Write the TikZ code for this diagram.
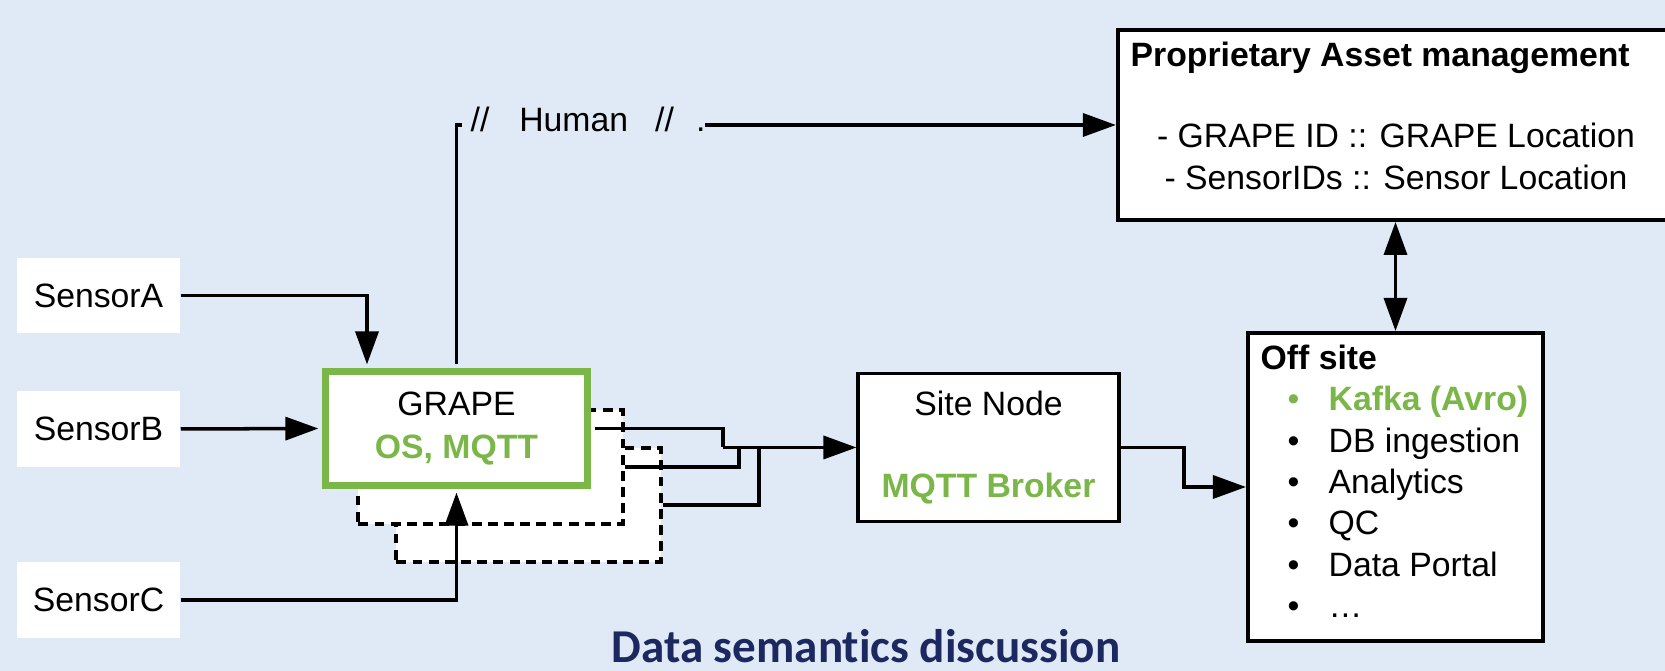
\documentclass[tikz,border=0pt]{standalone}
\usepackage{fontspec}
\setmainfont{Liberation Sans}
\newfontfamily\captionfont[Ligatures=NoCommon]{Carlito}
\usepackage{xcolor}
\usetikzlibrary{arrows.meta}

\definecolor{bgblue}{RGB}{223,234,246}
\definecolor{lucidgreen}{RGB}{122,182,72}
\definecolor{navy}{RGB}{28,40,95}

\begin{document}
\fontsize{9.6}{12}\selectfont
\begin{tikzpicture}[x=0.01cm, y=-0.01cm,
  sensor/.style={fill=white, minimum width=1.63cm, minimum height=0.75cm, inner sep=0pt},
  box/.style={draw, line width=1.1pt, fill=white, inner sep=0pt},
  shadow/.style={draw, fill=white, line width=1.1pt, dash pattern=on 2.8pt off 1.8pt,
    minimum width=2.64cm, minimum height=1.14cm},
  txt/.style={anchor=base west, inner sep=0pt},
  link/.style={line width=1pt, -{Triangle[length=0.33cm, width=0.23cm]}},
  both/.style={line width=1pt, {Triangle[length=0.33cm, width=0.23cm]}-{Triangle[length=0.33cm, width=0.23cm]}},
  plain/.style={line width=1pt}]

  \useasboundingbox (0,0) rectangle (1665,671);
  \fill[bgblue] (0,0) rectangle (1665,671);

  \node[sensor] (sensora) at (98.5,295.5) {SensorA};
  \node[sensor] (sensorb) at (98.5,429) {SensorB};
  \node[sensor] (sensorc) at (98.5,600) {SensorC};

  \node[shadow] (shadow2) at (528.5,505) {};
  \node[shadow] (shadow1) at (490.5,467) {};
  \node[box, draw=lucidgreen, line width=2pt, minimum width=2.62cm, minimum height=1.14cm, align=center]
    (grape) at (456.5,428.5) {GRAPE\\ {\bfseries\color{lucidgreen} OS, MQTT}};

  \node[box, minimum width=2.6cm, minimum height=1.48cm, align=center]
    (site) at (988.5,447.5) {Site Node\\[11.3pt] {\bfseries\color{lucidgreen} MQTT Broker}};

  \node[box, minimum width=5.62cm, minimum height=1.9cm] (asset) at (1399,125) {};
  \node[txt, font=\bfseries] (assettitle) at (1130,67) {Proprietary Asset management};
  \node[anchor=base, inner sep=0pt] (assetid1) at (1396,148) {- GRAPE ID :: GRAPE Location};
  \node[anchor=base, inner sep=0pt] (assetid2) at (1396,190) {- SensorIDs :: Sensor Location};

  \node[box, minimum width=2.95cm, minimum height=3.08cm] (offsite) at (1395.5,487) {};
  \node[txt, font=\bfseries] (offtitle) at (1260,370) {Off site};
  \node[txt, text=lucidgreen] (dot0) at (1287,411) {\textbullet};
  \node[txt, font=\bfseries, text=lucidgreen] (item0) at (1328,411) {Kafka (Avro)};
  \foreach \name [count=\i] in {DB ingestion, Analytics, QC, Data Portal, \dots}{
    \node[txt] (dot\i) at (1287,411+41.3*\i) {\textbullet};
    \node[txt] (item\i) at (1328,411+41.3*\i) {\name};
  }

  \coordinate (ajoin) at (367,295.5);
  \draw[link, shorten >=1pt] (sensora.east) -- (ajoin) -- (ajoin |- grape.north);
  \draw[link, shorten >=1pt] (sensorb.east) -- (grape.west);
  \draw[link, shorten >=1pt] (sensorc.east) -| (grape.south);

  \coordinate (hl) at (462,125);
  \coordinate (hr) at (705,125);
  \node[txt] (human) at (470,132) {//\hspace{8.5pt}Human\hspace{7.7pt}//\hspace{6.3pt}.};
  \draw[plain, shorten <=1pt] (grape.north) |- (hl);
  \draw[link] (hr) -- (asset.west);

  \coordinate (m1) at (723,447.5);
  \coordinate (m2) at (739,447.5);
  \coordinate (m3) at (759,447.5);
  \draw[plain, shorten <=1pt] (grape.east) -| (m1);
  \draw[plain] (shadow1.east) -| (m2);
  \draw[plain] (shadow2.east) -| (m3);
  \draw[link] (m1) -- (site.west);

  \coordinate (s1) at (1184,487);
  \draw[link] (site.east) -| (s1) -- (offsite.west);

  \draw[both] (asset.south -| offsite.north) -- (offsite.north);

  \node[anchor=base, font=\captionfont\bfseries\fontsize{13.4}{16}\selectfont, text=navy]
    (caption) at (866,663) {Data semantics discussion};
\end{tikzpicture}
\end{document}
